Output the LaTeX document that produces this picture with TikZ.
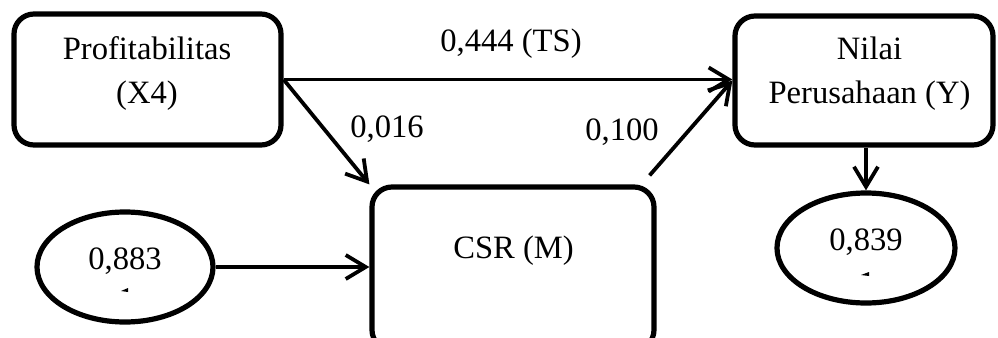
\documentclass[tikz,border=0pt]{standalone}
\usepackage{fontspec}
\setmainfont{Liberation Serif}
\usetikzlibrary{arrows.meta,shapes.geometric}
\begin{document}
\begin{tikzpicture}[x=0.5pt,y=-0.5pt,
  txt/.style={font=\fontsize{16.3}{22}\selectfont,align=center,inner sep=0pt},
  var/.style={draw,line width=2.6pt,rounded corners=10pt,inner sep=0pt},
  err/.style={draw,ellipse,line width=2.6pt,inner sep=0pt},
  link/.style={line width=1.9pt,-{Straight Barb[length=10pt,width=12pt]}}]
\clip (0,0) rectangle (998,338);
\useasboundingbox (0,0) rectangle (998,338);

% variable boxes
\node[var,minimum width=133.5pt,minimum height=65.5pt] (prof) at (147.5,79.5) {};
\node[var,minimum width=129pt,minimum height=64.5pt] (nilai) at (864,80.5) {};
\node[var,minimum width=141pt,minimum height=81.5pt] (csr) at (513,268.5) {};
\node[txt] (proftxt) at (147,73.5) {Profitabilitas\\(X4)};
\node[txt] (nilaitxt) at (869.5,73.5) {Nilai\\Perusahaan (Y)};
\node[txt] (csrtxt) at (513.5,251) {CSR (M)};

% error terms
\node[err,minimum width=88pt,minimum height=55pt] (e1) at (125,267) {};
\node[err,minimum width=89pt,minimum height=55pt] (e2) at (866,248) {};
\node[txt] (e1txt) at (125,261) {0,883};
\node[txt] (e2txt) at (866,242) {0,839};
\fill (121,291) -- (128,288) -- (128,292) -- cycle;
\fill (861,275) -- (869,272) -- (869,276) -- cycle;

% paths
\draw[link] (prof.east) -- (prof.east -| nilai.west);
\draw[link] (prof.east) -- (csr.north west);
\draw[link] ([xshift=-3.5pt,yshift=4.5pt]csr.north east) -- (nilai.west);
\draw[link] (e1.east) -- (e1.east -| csr.west);
\draw[link] (e2.north |- nilai.south) -- (e2.north);

% coefficients
\node[txt] (c1) at (511,44) {0,444 (TS)};
\node[txt] (c2) at (387,129) {0,016};
\node[txt] (c3) at (622,132) {0,100};
\end{tikzpicture}
\end{document}
